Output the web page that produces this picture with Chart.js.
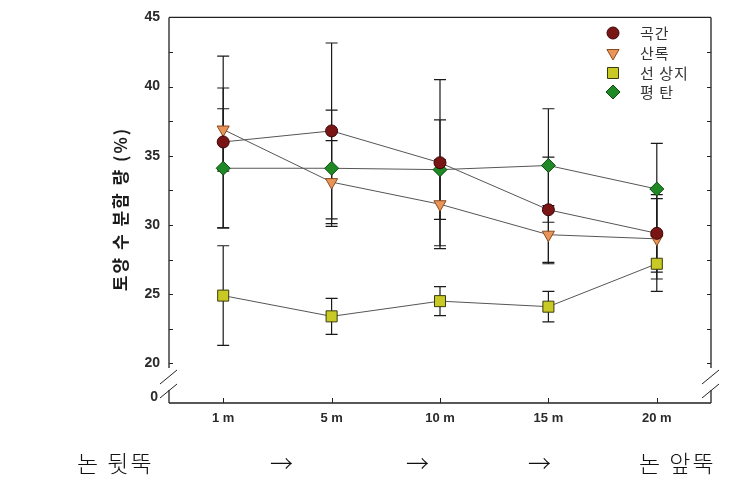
<!DOCTYPE html>
<html><head><meta charset="utf-8">
<style>
html,body{margin:0;padding:0;background:#fff;width:753px;height:497px;overflow:hidden}
#wrap{position:relative;width:753px;height:497px}
canvas{position:absolute;left:0;top:0}
.bt{position:absolute;font-family:"Noto Sans CJK KR";font-size:23px;font-weight:300;color:#111;top:446px;line-height:32px;white-space:pre;letter-spacing:2px}
</style>
<script src="https://cdn.jsdelivr.net/npm/chart.js@4.4.1/dist/chart.umd.min.js"></script>
</head><body>
<div id="wrap"><canvas id="c" width="753" height="497"></canvas></div>
<script>
const categories = ['1 m', '5 m', '10 m', '15 m', '20 m'];
const seriesNames = ['곡간', '산록', '선 상지', '평 탄'];
const gokgan = [36.0, 36.8, 34.5, 31.1, 29.4];
const gokganErr = [6.2, 6.35, 6.0, 3.8, 2.8];
const sanrok = [36.9, 33.1, 31.5, 29.3, 29.0];
const sanrokErr = [3.0, 3.0, 3.2, 2.1, 2.9];
const seonsangji = [24.9, 23.4, 24.5, 24.1, 27.2];
const seonsangjiErr = [3.6, 1.3, 1.05, 1.1, 2.0];
const pyeongtan = [34.1, 34.1, 34.0, 34.3, 32.6];
const pyeongtanErr = [4.3, 4.2, 3.6, 4.1, 3.3];
const yTicks = [20, 22.5, 25, 27.5, 30, 32.5, 35, 37.5, 40, 42.5, 45];
const yBreakLabel = '0';
const yTitle = '토양 수 분함 량 (%)';
const bottomLabels = ['논 뒷뚝', '→', '→', '→', '논 앞뚝'];

const bottomX = [77, 270, 406, 528, 639];
const wrap = document.getElementById('wrap');
bottomLabels.forEach((t, i) => {
  const d = document.createElement('div');
  d.className = 'bt'; d.textContent = t; d.style.left = bottomX[i] + 'px';
  wrap.appendChild(d);
});

const styles = [
  {fill: '#7a1515', border: '#3a0505', style: 'circle', r: 6, rot: 0},
  {fill: '#e8955a', border: '#8a4a1a', style: 'triangle', r: 7, rot: 180},
  {fill: '#c9c925', border: '#3a3a10', style: 'rect', r: 7.8, rot: 0},
  {fill: '#1f8a25', border: '#0c4a10', style: 'rectRot', r: 7, rot: 0}
];
const values = [gokgan, sanrok, seonsangji, pyeongtan];
const errs = [gokganErr, sanrokErr, seonsangjiErr, pyeongtanErr];

const datasets = values.map((v, i) => ({
  label: seriesNames[i],
  data: v,
  borderColor: '#555',
  borderWidth: 1,
  pointStyle: styles[i].style,
  pointRadius: styles[i].r,
  pointRotation: styles[i].rot,
  pointBackgroundColor: styles[i].fill,
  pointBorderColor: styles[i].border,
  pointBorderWidth: 1,
  tension: 0,
  fill: false
}));

const Y_MIN = 17.14, Y_MAX = 45;

const framePlugin = {
  id: 'frame',
  beforeDatasetsDraw(chart) {
    const ctx = chart.ctx, a = chart.chartArea;
    const ys = chart.scales.y, xs = chart.scales.x;
    ctx.save();
    ctx.strokeStyle = '#1a1a1a';
    ctx.lineWidth = 1.2;
    values.forEach((v, i) => {
      const meta = chart.getDatasetMeta(i);
      v.forEach((val, j) => {
        const x = meta.data[j].x;
        const yt = ys.getPixelForValue(val + errs[i][j]);
        const yb = ys.getPixelForValue(val - errs[i][j]);
        ctx.beginPath();
        ctx.moveTo(x, yt); ctx.lineTo(x, yb);
        ctx.moveTo(x - 6, yt); ctx.lineTo(x + 6, yt);
        ctx.moveTo(x - 6, yb); ctx.lineTo(x + 6, yb);
        ctx.stroke();
      });
    });
    ctx.strokeStyle = '#222';
    ctx.lineWidth = 1.3;
    const gapTop = 368, gapBot = 390;
    ctx.beginPath();
    ctx.moveTo(a.left, a.top); ctx.lineTo(a.right, a.top);
    ctx.moveTo(a.left, a.bottom); ctx.lineTo(a.right, a.bottom);
    ctx.moveTo(a.left, a.top); ctx.lineTo(a.left, gapTop);
    ctx.moveTo(a.left, gapBot); ctx.lineTo(a.left, a.bottom);
    ctx.moveTo(a.right, a.top); ctx.lineTo(a.right, gapTop);
    ctx.moveTo(a.right, gapBot); ctx.lineTo(a.right, a.bottom);
    ctx.stroke();
    ctx.lineWidth = 1;
    [a.left, a.right].forEach(x => {
      [377, 391].forEach(yc => {
        ctx.beginPath();
        ctx.moveTo(x - 9, yc + 7); ctx.lineTo(x + 8, yc - 7);
        ctx.stroke();
      });
    });
    ctx.lineWidth = 1;
    ctx.beginPath();
    yTicks.forEach(t => {
      const y = Math.round(ys.getPixelForValue(t)) + 0.5;
      ctx.moveTo(a.left, y); ctx.lineTo(a.left + 4, y);
      ctx.moveTo(a.right, y); ctx.lineTo(a.right - 4, y);
    });
    categories.forEach((c, i) => {
      const x = Math.round(xs.getPixelForValue(i)) + 0.5;
      ctx.moveTo(x, a.bottom); ctx.lineTo(x, a.bottom - 5);
    });
    ctx.stroke();
    ctx.restore();
  },
  afterDraw(chart) {
    const ctx = chart.ctx;
    ctx.save();
    ctx.fillStyle = '#2a2a2a';
    ctx.font = 'bold 14px "Liberation Sans", Arial, sans-serif';
    ctx.textAlign = 'right'; ctx.textBaseline = 'middle';
    ctx.fillText(yBreakLabel, 158, 397);
    ctx.save();
    ctx.translate(121, 209);
    ctx.rotate(-Math.PI / 2);
    ctx.font = 'bold 17px "Noto Sans CJK KR"';
    try { ctx.letterSpacing = '2px'; } catch (e) {}
    ctx.fillStyle = '#1a1a1a';
    ctx.textAlign = 'center'; ctx.textBaseline = 'middle';
    ctx.fillText(yTitle, 0, 0);
    try { ctx.letterSpacing = '0px'; } catch (e) {}
    ctx.restore();
    const rows = [33, 53, 73, 92];
    seriesNames.forEach((n, i) => {
      const s = styles[i];
      ctx.fillStyle = s.fill; ctx.strokeStyle = s.border; ctx.lineWidth = 1;
      Chart.helpers.drawPoint(ctx, {pointStyle: s.style, radius: s.r, rotation: s.rot, borderWidth: 1}, 613, rows[i]);
      ctx.fillStyle = '#333';
      ctx.font = '15px "Noto Sans CJK KR"';
      try { ctx.letterSpacing = '1px'; } catch (e) {}
      ctx.textAlign = 'left'; ctx.textBaseline = 'middle';
      ctx.fillText(n, 640, rows[i]);
      try { ctx.letterSpacing = '0px'; } catch (e) {}
    });
    ctx.restore();
  }
};

new Chart(document.getElementById('c'), {
  type: 'line',
  data: {labels: categories, datasets},
  options: {
    responsive: false,
    animation: false,
    devicePixelRatio: 1,
    layout: {padding: {left: 0, right: 42, top: 13, bottom: 0}},
    plugins: {legend: {display: false}, tooltip: {enabled: false}},
    scales: {
      x: {
        type: 'category',
        offset: true,
        grid: {display: false, drawTicks: false},
        border: {display: false},
        ticks: {color: '#2a2a2a', font: {family: '"Liberation Sans", Arial, sans-serif', size: 13, weight: 'bold'}, padding: 8, maxRotation: 0},
        afterFit(s) { s.height = 94; }
      },
      y: {
        type: 'linear',
        min: Y_MIN, max: Y_MAX,
        grid: {display: false, drawTicks: false},
        border: {display: false},
        afterBuildTicks(s) { s.ticks = yTicks.map(v => ({value: v})); },
        ticks: {
          color: '#2a2a2a',
          font: {family: '"Liberation Sans", Arial, sans-serif', size: 14, weight: 'bold'},
          padding: 9,
          callback: v => (v % 5 === 0 ? String(v) : '')
        },
        afterFit(s) { s.width = 169; }
      }
    }
  },
  plugins: [framePlugin]
});
</script>
</body></html>
